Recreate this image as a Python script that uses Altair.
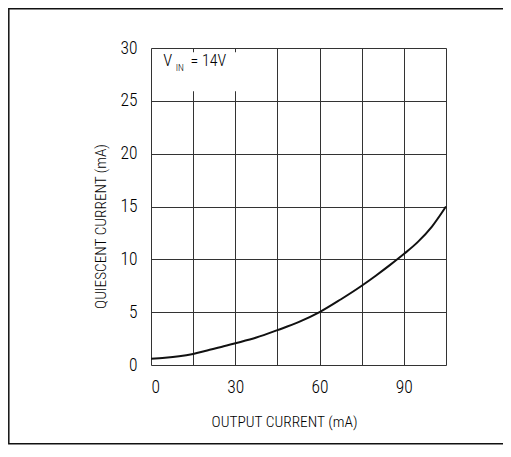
import altair as alt
import pandas as pd

# curve: output current (mA) vs quiescent current (mA)
out_current = [0, 5, 10, 15, 20, 25, 30, 37.5, 45, 52.5, 60, 67.5, 75, 80, 85, 90, 95, 100, 105]
quiescent = [0.6, 0.68, 0.82, 1.05, 1.38, 1.7, 2.05, 2.6, 3.3, 4.05, 5.0, 6.2, 7.5, 8.45, 9.45, 10.5, 11.65, 13.1, 15.0]

x_grid = [0, 15, 30, 45, 60, 75, 90, 105]
y_grid = [0, 5, 10, 15, 20, 25, 30]

FONT = "Roboto Condensed, Liberation Sans Narrow, DejaVu Sans Condensed, sans-serif"
W = 300
TC = "#000"

df = pd.DataFrame({"x": out_current, "y": quiescent})

xs = alt.Scale(domain=[0, 105], nice=False, zero=False)
ys = alt.Scale(domain=[0, 30], nice=False)

line = alt.Chart(df).mark_line(color="#111", strokeWidth=2, interpolate="monotone").encode(
    x=alt.X("x:Q", scale=xs,
            axis=alt.Axis(values=x_grid, title="OUTPUT CURRENT (mA)",
                          labelExpr="datum.value % 30 == 0 ? datum.label : ''",
                          ticks=False, domain=False, grid=True, gridColor="#333", gridOpacity=1,
                          labelPadding=13, labelFontSize=17.5, labelFont=FONT, labelColor=TC,
                          labelFontWeight=W,
                          titleFont=FONT, titleFontSize=15.4, titleFontWeight=W, titleColor=TC,
                          titleX=133, titleY=56, titleBaseline="middle", titleAnchor="start", titleAlign="center")),
    y=alt.Y("y:Q", scale=ys,
            axis=alt.Axis(values=y_grid, title="QUIESCENT CURRENT (mA)",
                          ticks=False, domain=False, grid=True, gridColor="#333", gridOpacity=1,
                          labelPadding=14, labelFontSize=17.5, labelFont=FONT, labelColor=TC,
                          labelFontWeight=W,
                          titleFont=FONT, titleFontSize=15.3, titleFontWeight=W, titleColor=TC,
                          titleX=-51, titleY=178, titleAngle=270, titleAlign="center", titleBaseline="middle")),
)

# white box behind the annotation
box_df = pd.DataFrame({"x": [2], "x2": [30.6], "y": [25.9], "y2": [29.6]})
box = alt.Chart(box_df).mark_rect(fill="white").encode(
    x=alt.X("x:Q", scale=xs), x2="x2:Q", y=alt.Y("y:Q", scale=ys), y2="y2:Q")

ann_main = pd.DataFrame({"x": [4.4], "y": [28.8], "t": ["V"]})
ann_sub = pd.DataFrame({"x": [8.8], "y": [28.1], "t": ["IN"]})
ann_rest = pd.DataFrame({"x": [14.1], "y": [28.8], "t": ["= 14V"]})

def txt(d, size):
    return alt.Chart(d).mark_text(align="left", baseline="middle", font=FONT, fontSize=size,
                                  fontWeight=W, color=TC).encode(
        x=alt.X("x:Q", scale=xs), y=alt.Y("y:Q", scale=ys), text="t:N")

frame = alt.Chart(pd.DataFrame({"a": [0]})).mark_rect(fill=None, stroke="#111", strokeWidth=1.5).encode(
    x=alt.value(-142.2), x2=alt.value(430), y=alt.value(-39.2), y2=alt.value(78.8 + 317))

chart = alt.layer(box, line, txt(ann_main, 16.5), txt(ann_sub, 9.5), txt(ann_rest, 16), frame).properties(
    width=295, height=317,
    autosize=alt.AutoSizeParams(type="none"),
    padding={"left": 143, "top": 40, "right": 57, "bottom": 80},
).configure_view(stroke="#111", strokeWidth=1.5).configure(background="white")

chart.save("out.html", embed_options={"renderer": "svg", "actions": False})
